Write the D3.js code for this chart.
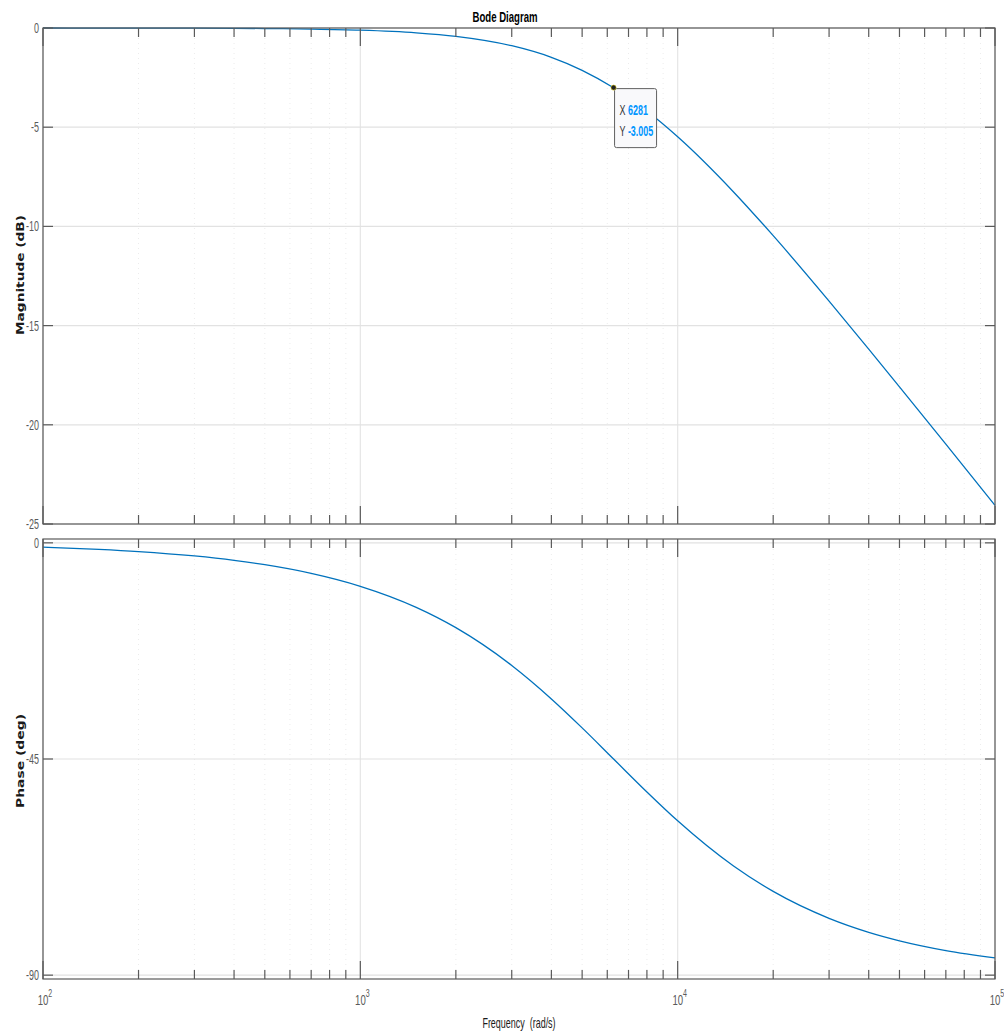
<!DOCTYPE html>
<html>
<head>
<meta charset="utf-8">
<script src="https://cdn.jsdelivr.net/npm/d3@7"></script>
<style>
  body { margin: 0; background: #fff; }
  svg { display: block; }
  text { font-family: "Liberation Sans", Arial, sans-serif; }
</style>
</head>
<body>
<div id="chart"></div>
<script>
// frequencies (rad/s)
const freq = [100, 150, 200, 300, 400, 500, 700, 1000, 1500, 2000, 3000, 4000, 5000, 6281, 8000, 10000, 15000, 20000, 30000, 40000, 50000, 70000, 100000];
// magnitude (dB)
const magnitude = [-0.001, -0.003, -0.004, -0.010, -0.018, -0.027, -0.054, -0.109, -0.241, -0.419, -0.893, -1.478, -2.132, -3.010, -4.187, -5.484, -8.263, -10.468, -13.768, -16.186, -18.087, -20.976, -24.06];
// phase (deg)
const phase = [-0.91, -1.37, -1.82, -2.73, -3.64, -4.55, -6.36, -9.05, -13.43, -17.66, -25.53, -32.49, -38.52, -45.0, -51.86, -57.87, -67.28, -72.57, -78.17, -81.08, -82.84, -84.87, -86.41];

const magTicks = [0, -5, -10, -15, -20, -25];
const phaseTicks = [0, -45, -90];
const decades = [2, 3, 4, 5];
const tip = { x: 6281, y: -3.005 };

const W = 1004, H = 1034;
const left = 43, right = 995;
const magTop = 28, magBottom = 524;
const phTop = 539, phBottom = 979;
const lineColor = "#0072BD";
const boxColor = "#5a5a5a";
const squeeze = 0.64; // narrow font look

const svg = d3.select("#chart").append("svg")
    .attr("width", W)
    .attr("height", H);

const x = d3.scaleLog().domain([1e2, 1e5]).range([left, right]);
const yMag = d3.scaleLinear().domain([-25, 0]).range([magBottom, magTop]);
const yPh = d3.scaleLinear().domain([-90.8, 0.8]).range([phBottom, phTop]);

// text squeezed horizontally
function narrow(parent, px, py, anchor, size) {
    return parent.append("g")
        .attr("transform", `translate(${px},${py}) scale(${squeeze},1)`)
        .append("text")
        .attr("text-anchor", anchor)
        .style("font-size", size + "px");
}

// minor tick positions: 2..9 of each decade
const minors = [];
for (let d = 2; d < 5; d++) {
    for (let k = 2; k <= 9; k++) minors.push(k * Math.pow(10, d));
}
const majors = decades.map(d => Math.pow(10, d));

function drawPanel(y, top, bottom, yTicks) {
    const g = svg.append("g");

    // minor x grid (dotted)
    g.selectAll(".minor-grid").data(minors).enter().append("line")
        .attr("x1", d => x(d)).attr("x2", d => x(d))
        .attr("y1", top).attr("y2", bottom)
        .attr("stroke", "#ececec")
        .attr("stroke-dasharray", "1,4");

    // major x grid
    g.selectAll(".major-grid").data(majors).enter().append("line")
        .attr("x1", d => x(d)).attr("x2", d => x(d))
        .attr("y1", top).attr("y2", bottom)
        .attr("stroke", "#e6e6e6")
        .attr("stroke-width", 1.2);

    // y grid
    g.selectAll(".y-grid").data(yTicks).enter().append("line")
        .attr("x1", left).attr("x2", right)
        .attr("y1", d => y(d)).attr("y2", d => y(d))
        .attr("stroke", "#e2e2e2")
        .attr("stroke-width", 1.2);

    return g;
}

function drawBox(g, y, top, bottom, yTicks) {
    g.append("rect")
        .attr("x", left).attr("y", top)
        .attr("width", right - left).attr("height", bottom - top)
        .attr("fill", "none")
        .attr("stroke", boxColor)
        .attr("stroke-width", 1.2);

    // x ticks, top and bottom, pointing inward
    const tickData = minors.map(v => ({ v, len: 9 })).concat(majors.map(v => ({ v, len: 18 })));
    tickData.forEach(t => {
        g.append("line")
            .attr("x1", x(t.v)).attr("x2", x(t.v))
            .attr("y1", bottom).attr("y2", bottom - t.len)
            .attr("stroke", boxColor).attr("stroke-width", 1.2);
        g.append("line")
            .attr("x1", x(t.v)).attr("x2", x(t.v))
            .attr("y1", top).attr("y2", top + t.len)
            .attr("stroke", boxColor).attr("stroke-width", 1.2);
    });

    // y ticks, left and right
    yTicks.forEach(v => {
        g.append("line")
            .attr("x1", left).attr("x2", left + 10)
            .attr("y1", y(v)).attr("y2", y(v))
            .attr("stroke", boxColor).attr("stroke-width", 1.2);
        g.append("line")
            .attr("x1", right).attr("x2", right - 10)
            .attr("y1", y(v)).attr("y2", y(v))
            .attr("stroke", boxColor).attr("stroke-width", 1.2);
        narrow(g, left - 4, y(v) + 5, "end", 14)
            .attr("fill", "#5a5a5a")
            .text(v);
    });
}

const line = (y, vals) => d3.line()
    .x((d, i) => x(freq[i]))
    .y((d, i) => y(vals[i]))
    .curve(d3.curveMonotoneX);

// magnitude panel
const gMag = drawPanel(yMag, magTop, magBottom, magTicks);
gMag.append("path")
    .datum(magnitude)
    .attr("d", line(yMag, magnitude))
    .attr("fill", "none")
    .attr("stroke", lineColor)
    .attr("stroke-width", 1.3);
drawBox(gMag, yMag, magTop, magBottom, magTicks);

// phase panel
const gPh = drawPanel(yPh, phTop, phBottom, phaseTicks);
gPh.append("path")
    .datum(phase)
    .attr("d", line(yPh, phase))
    .attr("fill", "none")
    .attr("stroke", lineColor)
    .attr("stroke-width", 1.3);
drawBox(gPh, yPh, phTop, phBottom, phaseTicks);

// x tick labels 10^n under the phase panel
decades.forEach(d => {
    const t = narrow(svg, x(Math.pow(10, d)) + 2, phBottom + 26, "middle", 15)
        .attr("fill", "#5a5a5a");
    t.append("tspan").text("10");
    t.append("tspan").attr("dy", -8).style("font-size", "11px").text(d);
});

// title
narrow(svg, 505, 22, "middle", 15)
    .style("font-weight", "bold")
    .attr("fill", "#000")
    .text("Bode Diagram");

// x label
narrow(svg, 519, 1028, "middle", 14)
    .attr("fill", "#1a1a1a")
    .attr("xml:space", "preserve")
    .text("Frequency  (rad/s)");

// y labels
function yLabel(text, cy, len) {
    svg.append("text")
        .attr("transform", `translate(24,${cy}) rotate(-90)`)
        .attr("text-anchor", "middle")
        .attr("textLength", len)
        .attr("lengthAdjust", "spacingAndGlyphs")
        .style("font-family", "'DejaVu Sans', sans-serif")
        .style("font-size", "11px")
        .style("font-weight", "bold")
        .attr("fill", "#1a1a1a")
        .text(text);
}
yLabel("Magnitude (dB)", 275, 120);
yLabel("Phase (deg)", 761, 94);

// data tip
const tx = x(tip.x), ty = yMag(tip.y);
const tipG = svg.append("g");
tipG.append("rect")
    .attr("x", tx + 1).attr("y", ty + 1)
    .attr("width", 42).attr("height", 59)
    .attr("rx", 2)
    .attr("fill", "#f9f9fb")
    .attr("stroke", "#606060")
    .attr("stroke-width", 1);
tipG.append("circle")
    .attr("cx", tx).attr("cy", ty)
    .attr("r", 2.5)
    .attr("fill", "#222")
    .attr("stroke", "#c8b400")
    .attr("stroke-width", 0.6);
[["X ", String(tip.x), 27], ["Y ", tip.y.toFixed(3), 48]].forEach(r => {
    const t = narrow(tipG, tx + 6, ty + r[2], "start", 14)
        .attr("xml:space", "preserve");
    t.append("tspan").attr("fill", "#333").text(r[0]);
    t.append("tspan").attr("fill", "#0096ff").style("font-weight", "bold").text(r[1]);
});
</script>
</body>
</html>
